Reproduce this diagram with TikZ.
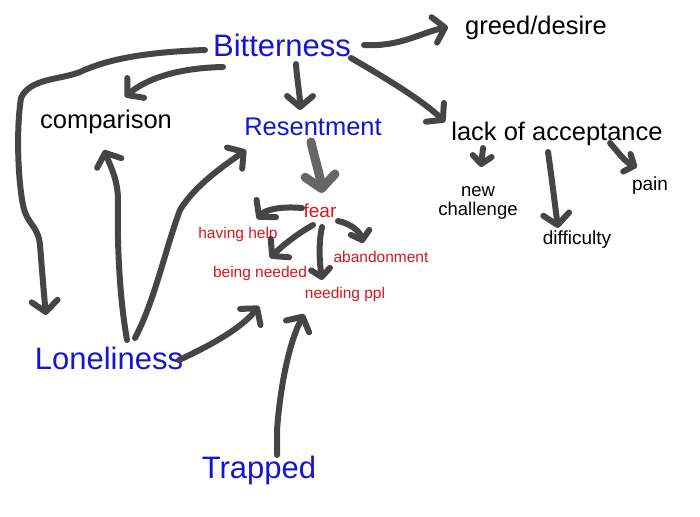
\documentclass[tikz,border=0pt]{standalone}
\usepackage{fontspec}
\setmainfont{Liberation Sans}
\usetikzlibrary{arrows.meta,calc}
\definecolor{ink}{HTML}{454545}
\definecolor{inklight}{HTML}{666666}
\definecolor{bluetxt}{RGB}{20,20,215}
\definecolor{redtxt}{RGB}{220,20,30}
\begin{document}
\begin{tikzpicture}[x=1pt,y=-1pt,
  every node/.style={inner sep=0pt,outer sep=0pt,anchor=base},
  bigblue/.style={text=bluetxt,font=\fontsize{31}{31}\selectfont},
  midblue/.style={text=bluetxt,font=\fontsize{25.5}{25.5}\selectfont},
  blacktxt/.style={text=black,font=\fontsize{25.5}{25.5}\selectfont},
  smallblack/.style={text=black,font=\fontsize{19}{19}\selectfont},
  feartxt/.style={text=redtxt,font=\fontsize{19}{19}\selectfont},
  redsmall/.style={text=redtxt,font=\fontsize{15.5}{15.5}\selectfont},
  hand/.style={draw=ink,line width=6pt,line cap=round,line join=round,-{Straight Barb[length=11pt,width=26pt,round]}},
  handsmall/.style={hand,-{Straight Barb[length=8pt,width=19pt,round]}},
  handthick/.style={draw=inklight,line width=9pt,line cap=round,line join=round,-{Straight Barb[length=13pt,width=30pt,round]}},
]
\fill[white] (0,0) rectangle (700,516);
\useasboundingbox (0,0) rectangle (700,516);

% nodes (placed by baseline)
\node[bigblue] (bit) at (282,57) {Bitterness};
\node[blacktxt] (greed) at (536,35) {greed/desire};
\node[blacktxt] (comp) at (106,128) {comparison};
\node[midblue] (res) at (313,135) {Resentment};
\node[blacktxt] (lack) at (557,140) {lack of acceptance};
\node[smallblack,anchor=center,align=center,font=\fontsize{18.5}{19}\selectfont] (newch) at (478,203) {new\\challenge};
\node[smallblack] (diff) at (577,244) {difficulty};
\node[smallblack] (pain) at (650,190) {pain};
\node[feartxt] (fear) at (320,217) {fear};
\node[redsmall] (help) at (238,238) {having help};
\node[redsmall] (aband) at (381,262) {abandonment};
\node[redsmall] (being) at (260,277) {being needed};
\node[redsmall] (needppl) at (345,298) {needing ppl};
\node[bigblue] (lone) at (109,369) {Loneliness};
\node[bigblue] (trap) at (259,478) {Trapped};

% connectors
\draw[hand] ($(bit.base)+(82,-12)$) .. controls (400,47) and (420,33) .. ($(greed.base)+(-88,-8)$);
\draw[hand] ($(bit.base)+(-59,10)$) .. controls (175,68) and (145,80) .. ($(comp.base)+(19,-31)$);
\draw[hand] ($(bit.base)+(14,7)$) .. controls (297,80) and (300,95) .. ($(res.base)+(-13,-25)$);
\draw[hand] ($(bit.base)+(69,1)$) .. controls (375,72) and (420,98) .. ($(lack.base)+(-112,-18)$);
\draw[hand] ($(bit.base)+(-77,-7)$) .. controls (150,52) and (110,58) .. (80,72)
   .. controls (60,80) and (30,78) .. (21,98)
   .. controls (16,130) and (18,180) .. (23,205)
   .. controls (27,225) and (38,225) .. (40,245)
   .. controls (42,270) and (44,295) .. ($(lone.base)+(-63,-54)$);
\draw[hand] ($(lone.base)+(18,-29)$) .. controls (120,300) and (117,250) .. (118,200)
   .. controls (118,180) and (110,165) .. ($(comp.base)+(-2,22)$);
\draw[hand] ($(lone.base)+(26,-31)$) .. controls (155,300) and (165,250) .. (180,210)
   .. controls (195,185) and (225,165) .. ($(res.base)+(-67,15)$);
\draw[hand] ($(lone.base)+(70,-9)$) .. controls (205,348) and (240,330) .. ($(being.base)+(-1,29)$);
\draw[hand] ($(trap.base)+(18,-23)$) -- (277,430) .. controls (280,390) and (288,345) .. ($(needppl.base)+(-41,16)$);
\draw[handthick] ($(res.base)+(-2,7)$) .. controls (315,160) and (320,175) .. ($(fear.base)+(2,-24)$);
\draw[hand] ($(fear.base)+(-18,-9)$) .. controls (280,206) and (265,210) .. ($(help.base)+(19,-19)$);
\draw[hand] ($(fear.base)+(-7,8)$) .. controls (295,235) and (280,248) .. ($(being.base)+(10,-19)$);
\draw[handsmall] ($(fear.base)+(2,10)$) .. controls (318,245) and (320,265) .. ($(needppl.base)+(-23,-18)$);
\draw[handsmall] ($(fear.base)+(18,4)$) .. controls (352,224) and (360,232) .. ($(aband.base)+(-18,-19)$);
\draw[handsmall] ($(lack.base)+(-74,8)$) -- ($(newch.center)+(3,-36)$);
\draw[hand] ($(lack.base)+(-9,12)$) .. controls (552,180) and (555,205) .. ($(diff.base)+(-19,-16)$);
\draw[handsmall] ($(lack.base)+(53,3)$) .. controls (618,152) and (625,162) .. ($(pain.base)+(-13,-23)$);
\end{tikzpicture}
\end{document}
